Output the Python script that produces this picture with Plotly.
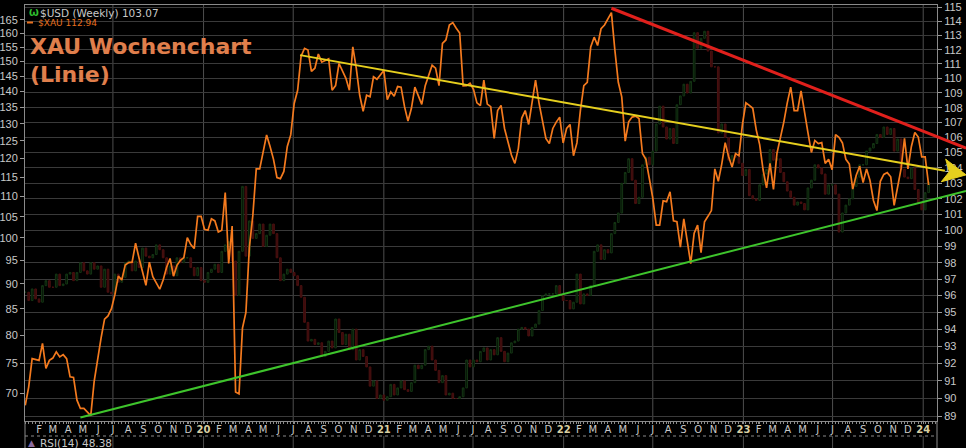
import math
import pandas as pd
import plotly.graph_objects as go

# ---------------- data ----------------
START = "2019-01-04"   # first weekly close (Friday)

XAU = [
    68.1, 71.0, 75.8, 75.7, 75.5, 78.5, 74.1, 75.5, 75.9, 77.0,
    76.1, 76.5, 75.8, 72.7, 72.6, 68.9, 67.6, 67.6, 67.1, 66.5,
    72.0, 75.8, 79.5, 83.0, 83.6, 85.0, 87.8, 91.6, 90.8, 94.0,
    94.5, 94.6, 98.8, 95.5, 92.3, 89.7, 94.6, 91.5, 90.2, 88.9,
    90.8, 93.5, 95.4, 91.6, 93.9, 95.0, 95.6, 100.1, 98.5, 97.6,
    105.1, 105.1, 102.0, 101.8, 104.5, 104.0, 101.4, 101.8, 111.0, 94.3,
    102.8, 70.2, 69.9, 81.3, 84.3, 97.9, 105.3, 117.2, 117.2, 122.4,
    126.7, 123.4, 119.8, 114.9, 114.6, 116.5, 123.4, 126.7, 136.2, 140.4,
    151.8, 154.6, 154.0, 146.6, 147.7, 152.6, 149.8, 150.3, 150.9, 140.4,
    141.9, 149.3, 146.6, 144.3, 140.4, 155.1, 147.7, 138.8, 133.8, 138.8,
    138.3, 144.8, 144.0, 145.4, 146.9, 137.4, 139.9, 138.5, 141.6, 141.4,
    135.2, 130.8, 134.7, 141.4, 138.8, 135.9, 141.9, 145.5, 148.7, 147.7,
    141.9, 156.4, 157.6, 163.1, 164.0, 161.9, 160.1, 141.8, 141.9, 142.7,
    140.7, 136.4, 135.5, 143.7, 136.0, 135.2, 125.7, 134.0, 135.6, 128.6,
    124.5, 121.0, 118.7, 122.8, 131.7, 134.0, 129.8, 136.2, 143.7, 136.4,
    131.1, 125.7, 124.2, 128.6, 130.5, 132.0, 124.4, 128.6, 129.8, 120.8,
    124.4, 134.0, 141.9, 143.0, 155.1, 158.6, 155.6, 161.7, 163.1, 165.5,
    167.8, 154.0, 143.0, 138.3, 124.9, 130.6, 132.0, 132.3, 131.6, 121.4,
    119.8, 114.6, 109.6, 103.0, 103.0, 108.9, 108.7, 111.2, 104.0, 103.8,
    97.9, 104.5, 99.6, 94.3, 101.1, 103.0, 96.7, 103.8, 105.1, 106.5,
    117.2, 113.9, 118.5, 124.5, 120.5, 117.7, 121.4, 120.8, 129.8, 136.4,
    135.6, 134.7, 128.2, 123.9, 116.9, 112.2, 118.7, 111.8, 121.4, 125.7,
    130.5, 136.4, 141.4, 134.0, 134.0, 140.2, 133.2, 127.4, 121.7, 125.1,
    124.2, 124.5, 118.7, 119.8, 117.0, 126.8, 126.0, 124.4, 119.8, 118.5,
    111.9, 115.5, 117.9, 113.6, 117.2, 114.1, 109.0, 106.5, 113.9, 115.7,
    116.2, 115.1, 107.8, 112.6, 117.2, 125.7, 117.2, 123.4, 127.4, 126.1,
    120.5, 120.5, 112.94,
]

USD_CLOSE = [
    # 2019
    96.2, 95.7, 96.4, 95.8, 95.6, 96.6, 96.9, 96.5, 96.5, 97.3,
    96.6, 96.7, 97.3, 97.4, 96.9, 97.4, 98.0, 97.5, 97.3, 98.0,
    97.6, 97.8, 96.5, 97.6, 96.2, 96.1, 97.3, 96.8, 97.1, 98.0,
    98.1, 97.5, 98.1, 97.7, 98.9, 98.4, 98.3, 98.5, 99.1, 98.8,
    98.3, 97.3, 97.8, 97.2, 98.3, 98.0, 98.3, 98.3, 97.7, 97.2,
    97.7, 96.9,
    # 2020
    96.8, 97.4, 97.6, 97.9, 97.4, 98.7, 99.1, 99.3, 98.1, 96.0,
    98.7, 102.8, 98.4, 100.6, 99.5, 99.8, 100.4, 99.0, 99.7, 100.4,
    99.8, 98.3, 96.9, 97.3, 97.6, 97.4, 97.2, 96.6, 95.9, 94.4,
    93.3, 93.4, 93.1, 93.2, 92.4, 92.7, 93.3, 92.9, 94.6, 93.8,
    93.1, 93.7, 92.8, 94.0, 92.2, 92.8, 92.4, 91.8, 90.7, 91.0,
    90.0, 90.2,
    # 2021
    89.9, 90.1, 90.8, 90.2, 90.6, 91.0, 90.5, 90.4, 90.9, 91.9,
    91.7, 91.9, 92.8, 93.0, 92.2, 91.6, 90.9, 91.3, 90.2, 90.3,
    90.0, 90.0, 90.1, 90.6, 92.2, 91.8, 92.2, 92.1, 92.7, 92.9,
    92.2, 92.8, 92.5, 93.5, 92.7, 92.1, 92.6, 93.2, 93.3, 94.0,
    94.1, 94.0, 93.6, 94.1, 94.3, 95.1, 96.0, 96.1, 96.1, 96.1,
    96.6, 96.0, 95.7,
    # 2022
    95.7, 95.2, 95.6, 97.3, 95.5, 96.1, 96.0, 96.6, 98.7, 99.1,
    98.2, 98.8, 98.6, 99.8, 100.5, 101.1, 103.0, 103.7, 104.6, 103.2,
    101.7, 102.1, 104.2, 104.7, 104.2, 105.1, 106.9, 108.1, 106.7, 105.9,
    106.6, 105.6, 108.2, 108.8, 109.6, 109.0, 109.8, 113.2, 112.1, 112.8,
    113.3, 111.9, 110.8, 110.8, 106.3, 106.9, 106.0, 104.5, 104.8, 104.7,
    104.3, 103.5,
    # 2023
    103.9, 102.2, 102.0, 101.9, 102.9, 103.6, 103.9, 105.2, 104.5, 104.6,
    103.7, 103.1, 102.5, 102.1, 101.6, 101.8, 101.7, 101.3, 102.7, 103.2,
    104.2, 104.0, 103.6, 102.3, 102.9, 102.9, 102.3, 99.9, 101.1, 101.6,
    102.0, 102.8, 103.4, 104.2, 104.2, 105.1, 105.3, 105.6, 106.2, 106.0,
    106.7, 106.2, 106.6, 105.1, 105.9, 103.9, 103.4, 103.3, 104.0, 102.6,
    101.7, 101.3,
    # 2024
    102.4, 103.07,
]
USD_PREV_CLOSE = 96.2

USD_LABEL = "$USD (Weekly) 103.07"
XAU_LABEL = "$XAU 112.94"
RSI_LABEL = "RSI(14) 48.38"
TITLE_1 = "XAU Wochenchart"
TITLE_2 = "(Linie)"

LEFT_TICKS = list(range(70, 170, 5))
RIGHT_TICKS = list(range(89, 116))
MONTH_LETTERS = ["J", "F", "M", "A", "M", "J", "J", "A", "S", "O", "N", "D"]

# hand-drawn trend lines: (date, XAU level)
YELLOW_LINE = [("2020-07-15", 152.2), ("2024-02-14", 116.7)]
YELLOW_TIP = ("2024-03-28", 115.6)
RED_LINE = [("2022-04-08", 169.5), ("2024-03-28", 122.9)]
GREEN_LINE = [("2019-04-26", 66.2), ("2024-03-28", 111.4)]

# axis windows
X_RANGE = ("2019-01-03 12:00", "2024-01-29")
XAU_RANGE = (65.68, 170.77)
USD_RANGE = (88.74, 115.18)

# ---------------- layout geometry ----------------
W, H = 966, 448
ML, MR, MT, MB = 25, 29, 5, 27
PW, PH = W - ML - MR, H - MT - MB


def px2paper(px, py):
    return (px - ML) / PW, (H - MB - py) / PH


# ---------------- build ----------------
dates = pd.date_range(START, periods=len(XAU), freq="7D")
usd_open = [USD_PREV_CLOSE] + USD_CLOSE[:-1]
usd_high = [max(o, c) for o, c in zip(usd_open, USD_CLOSE)]
usd_low = [min(o, c) for o, c in zip(usd_open, USD_CLOSE)]

X0, X1 = pd.Timestamp(X_RANGE[0]), pd.Timestamp(X_RANGE[1])


def xp(d):
    return (pd.Timestamp(d) - X0) / (X1 - X0)


def yp(v):
    lo, hi = XAU_RANGE
    return (math.log10(v) - math.log10(lo)) / (math.log10(hi) - math.log10(lo))


fig = go.Figure()
fig.add_trace(go.Candlestick(
    x=dates, open=usd_open, high=usd_high, low=usd_low, close=USD_CLOSE,
    yaxis="y", xaxis="x",
    increasing=dict(line=dict(color="#143614", width=1), fillcolor="#050f05"),
    decreasing=dict(line=dict(color="#4a1010", width=1), fillcolor="#3a0c0c"),
    whiskerwidth=0, hoverinfo="skip", showlegend=False,
))
fig.add_trace(go.Scatter(
    x=dates, y=XAU, yaxis="y2", mode="lines",
    line=dict(color="#f47a1e", width=1.7), showlegend=False,
))

# month tick labels
tickvals = pd.date_range("2019-02-01", "2024-01-01", freq="MS")
ticktext = []
for d in tickvals:
    if d.month == 1:
        ticktext.append("<span style='color:#d8cfa2'><b>%02d</b></span>" % (d.year % 100))
    else:
        ticktext.append(MONTH_LETTERS[d.month - 1])

band_y = px2paper(0, 436)[1]
bottom_y = px2paper(0, 448)[1]

shapes = []
# six-month vertical grid lines (plot area + RSI stub)
for d in pd.date_range("2019-07-01", "2024-01-01", freq="6MS"):
    shapes.append(dict(type="line", xref="x", yref="paper", x0=d, x1=d, y0=0, y1=1,
                       line=dict(color="#4e4e4e", width=1), layer="below"))
    shapes.append(dict(type="line", xref="x", yref="paper", x0=d, x1=d, y0=band_y, y1=bottom_y,
                       line=dict(color="#4e4e4e", width=1), layer="below"))
# band / panel frame
shapes.append(dict(type="line", xref="paper", yref="paper", x0=0, x1=1, y0=band_y, y1=band_y,
                   line=dict(color="#8a8a8a", width=1, dash="dot")))
for xx in (0, 1):
    shapes.append(dict(type="line", xref="paper", yref="paper", x0=xx, x1=xx, y0=0, y1=bottom_y,
                       line=dict(color="#8a8a8a", width=1)))


def seg(pts, color, width):
    (d0, v0), (d1, v1) = pts
    return dict(type="line", xref="paper", yref="paper",
                x0=xp(d0), y0=yp(v0), x1=xp(d1), y1=yp(v1),
                line=dict(color=color, width=width))


shapes.append(seg(GREEN_LINE, "#3ec42c", 2))
shapes.append(seg(YELLOW_LINE, "#e6cf1e", 2))
shapes.append(seg(RED_LINE, "#e0201c", 3))

# yellow arrow head (notched triangle) in pixel geometry around the tip
tx, ty = xp(YELLOW_TIP[0]) * PW + ML, H - MB - yp(YELLOW_TIP[1]) * PH
bx, by = xp(YELLOW_LINE[1][0]) * PW + ML, H - MB - yp(YELLOW_LINE[1][1]) * PH
L = math.hypot(tx - bx, ty - by)
ux, uy = (tx - bx) / L, (ty - by) / L
nx, ny = -uy, ux
HEAD_LEN, HALF_W, NOTCH = 23, 11.5, 6
cx, cy = tx - ux * HEAD_LEN, ty - uy * HEAD_LEN
pts = [(tx, ty), (cx + nx * HALF_W, cy + ny * HALF_W),
       (cx + ux * NOTCH, cy + uy * NOTCH), (cx - nx * HALF_W, cy - ny * HALF_W)]
ppts = [px2paper(a, b) for a, b in pts]
path = "M " + " L ".join("%.5f,%.5f" % p for p in ppts) + " Z"
shapes.append(dict(type="path", xref="paper", yref="paper", path=path,
                   fillcolor="#e6cf1e", line=dict(color="#e6cf1e", width=1)))

# orange legend dash
dy = px2paper(0, 22.5)[1]
shapes.append(dict(type="line", xref="paper", yref="paper",
                   x0=px2paper(27, 0)[0], x1=px2paper(33, 0)[0], y0=dy, y1=dy,
                   line=dict(color="#e8701e", width=2)))


def ann(px, py, text, size, color, family="DejaVu Sans"):
    x, y = px2paper(px, py)
    return dict(xref="paper", yref="paper", x=x, y=y, xanchor="left", yanchor="middle",
                text=text, showarrow=False, font=dict(family=family, size=size, color=color))


annotations = [
    ann(27, 13, "<b>Ѡ</b>", 9, "#2fbf2f"),
    ann(38, 13, USD_LABEL, 10.5, "#c8c8c8"),
    ann(36, 23, XAU_LABEL, 9, "#e8701e"),
    ann(28, 47, "<b>%s</b>" % TITLE_1, 22, "#e07f4c"),
    ann(28, 75, "<b>%s</b>" % TITLE_2, 22, "#e07f4c"),
    ann(26, 443, "▲", 9, "#8a6a9e"),
    ann(38, 443, RSI_LABEL, 10.5, "#c8c8c8"),
]

tickfont = dict(family="Liberation Sans, Arial", size=11, color="#c8c8c8")

fig.update_layout(
    width=W, height=H,
    margin=dict(l=ML, r=MR, t=MT, b=MB, autoexpand=False),
    paper_bgcolor="black", plot_bgcolor="black",
    showlegend=False,
    xaxis=dict(
        type="date", range=[X0, X1], rangeslider=dict(visible=False), automargin=False,
        tickmode="array", tickvals=tickvals, ticktext=ticktext,
        ticks="outside", ticklen=2, tickcolor="#8a8a8a",
        minor=dict(ticks="outside", ticklen=2, tickcolor="#8a8a8a",
                   dtick=7 * 86400000, tick0=START, showgrid=False),
        showgrid=False, zeroline=False,
        showline=True, linecolor="#8a8a8a", linewidth=1, mirror=True,
        tickfont=dict(family="DejaVu Sans", size=10, color="#c8c8c8"),
        tickangle=0, ticklabelstandoff=-3,
    ),
    yaxis=dict(
        type="log", side="right", automargin=False,
        range=[math.log10(USD_RANGE[0]), math.log10(USD_RANGE[1])],
        tickmode="array", tickvals=RIGHT_TICKS, ticktext=[str(v) for v in RIGHT_TICKS],
        showgrid=True, gridcolor="#3a3a3a", gridwidth=1, zeroline=False,
        ticks="outside", ticklen=4, tickcolor="#9a9a9a",
        showline=True, linecolor="#8a8a8a", tickfont=tickfont,
    ),
    yaxis2=dict(
        type="log", side="left", overlaying="y", anchor="x", automargin=False,
        range=[math.log10(XAU_RANGE[0]), math.log10(XAU_RANGE[1])],
        tickmode="array", tickvals=LEFT_TICKS, ticktext=[str(v) for v in LEFT_TICKS],
        showgrid=False, zeroline=False,
        ticks="outside", ticklen=4, tickcolor="#9a9a9a",
        showline=True, linecolor="#8a8a8a", tickfont=tickfont,
    ),
    shapes=shapes,
    annotations=annotations,
)

fig.write_html(
    "out.html",
    config={"displayModeBar": False},
    post_script="document.body.style.margin='0';document.body.style.padding='0';"
                "document.body.style.background='black';",
)
